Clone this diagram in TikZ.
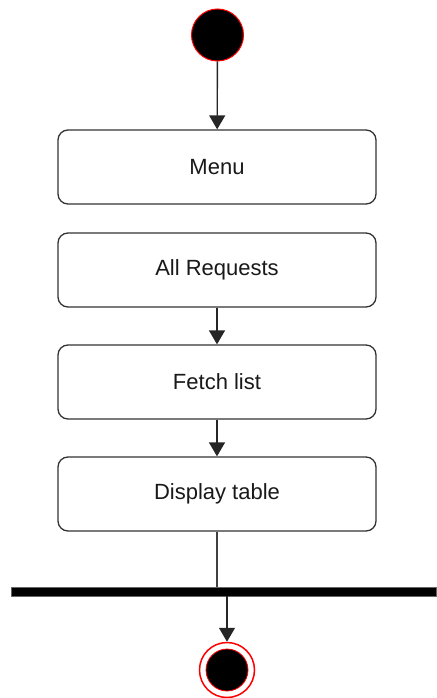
\documentclass[tikz,border=0pt]{standalone}
\usepackage{fontspec}
\setmainfont{Liberation Sans}
\usetikzlibrary{arrows.meta}
\begin{document}
\begin{tikzpicture}[x=1pt,y=-1pt,
  actbox/.style={draw=black!80,line width=1.3pt,rounded corners=10pt,fill=white,
    minimum width=318pt,minimum height=74pt,inner sep=0pt,
    font=\fontsize{22}{26}\selectfont,text=black!90},
  conn/.style={draw=black!85,line width=1.4pt,-{Triangle[width=16pt,length=14pt]}},
  plainconn/.style={draw=black!75,line width=1.3pt}]
\useasboundingbox (0,0) rectangle (436,698);
\node[circle,fill=black,draw=red,line width=1pt,minimum size=52pt,inner sep=0pt] (start) at (217.5,35) {};
\node[actbox] (menu) at (217,167) {Menu};
\node[actbox] (allreq) at (217,270) {All Requests};
\node[actbox] (fetch) at (217,382) {Fetch list};
\node[actbox] (display) at (217,494) {Display table};
\node[rectangle,fill=black,draw=black!60,line width=0.5pt,minimum width=425pt,minimum height=9pt,inner sep=0pt] (bar) at (223.5,591.5) {};
\node[circle,fill=white,draw=red,line width=1.5pt,minimum size=55pt,inner sep=0pt] (endo) at (227,670) {};
\node[circle,fill=black,draw=red,line width=0.8pt,minimum size=42pt,inner sep=0pt] (endi) at (endo.center) {};
\draw[conn] (start) -- (menu);
\draw[conn] (allreq) -- (fetch);
\draw[conn] (fetch) -- (display);
\draw[plainconn] (display.south) -- (display.south |- bar.north);
\draw[conn] (endo |- bar.south) -- (endo.north);
\end{tikzpicture}
\end{document}
